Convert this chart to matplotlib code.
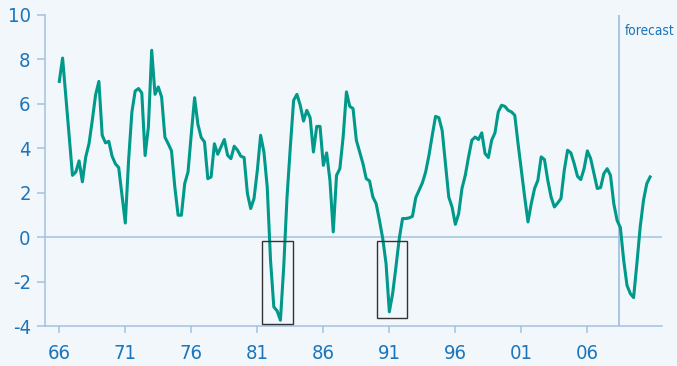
import matplotlib.pyplot as plt
import numpy as np
from matplotlib.patches import Rectangle

# Quarterly growth, % y/y, 1966Q1 onwards (last quarters are forecast)
start_year = 1966
growth = [
    7.0, 8.05, 6.3, 4.5, 2.78, 2.93, 3.43, 2.49, 3.6, 4.2, 5.25, 6.4, 7.0, 4.58, 4.24, 4.31,
    3.64, 3.3, 3.13, 1.9, 0.64, 3.46, 5.63, 6.57, 6.68, 6.48, 3.67, 4.96, 8.4, 6.42, 6.75, 6.3,
    4.5, 4.2, 3.88, 2.26, 0.99, 0.99, 2.41, 2.93, 4.65, 6.27, 5.07, 4.48, 4.28, 2.63, 2.71, 4.2,
    3.73, 4.06, 4.39, 3.68, 3.53, 4.09, 3.91, 3.64, 3.58, 1.96, 1.29, 1.74, 3.0, 4.58, 3.83, 2.26,
    -1.03, -3.13, -3.31, -3.73, -1.33, 1.81, 4.06, 6.15, 6.42, 5.93, 5.22, 5.7, 5.37, 3.83, 4.98, 4.98,
    3.23, 3.79, 2.56, 0.24, 2.78, 3.08, 4.5, 6.53, 5.88, 5.78, 4.36, 3.83, 3.31, 2.63, 2.53, 1.81,
    1.51, 0.76, -0.06, -1.18, -3.35, -2.53, -1.33, -0.06, 0.84, 0.84, 0.87, 0.94, 1.78, 2.11, 2.44, 2.93,
    3.68, 4.58, 5.43, 5.37, 4.8, 3.31, 1.81, 1.36, 0.58, 1.06, 2.19, 2.78, 3.61, 4.36, 4.5, 4.39,
    4.69, 3.76, 3.58, 4.36, 4.69, 5.63, 5.93, 5.88, 5.7, 5.63, 5.48, 4.2, 3.0, 1.81, 0.69, 1.51,
    2.19, 2.56, 3.61, 3.49, 2.56, 1.81, 1.36, 1.54, 1.74, 3.01, 3.91, 3.79, 3.31, 2.74, 2.59, 3.08,
    3.88, 3.53, 2.86, 2.19, 2.23, 2.86, 3.08, 2.78, 1.51, 0.76, 0.43, -1.03, -2.16, -2.53, -2.71, -1.18,
    0.46, 1.66, 2.41, 2.71,
]
years = start_year + np.arange(len(growth)) / 4

xticks = [1966, 1971, 1976, 1981, 1986, 1991, 1996, 2001, 2006]
xtick_labels = ['66', '71', '76', '81', '86', '91', '96', '01', '06']
yticks = [-4, -2, 0, 2, 4, 6, 8, 10]
ytick_labels = ['-4', '-2', '0', '2', '4', '6', '8', '10']

# recession boxes: (x0, x1, y0, y1)
boxes = [(1981.33, 1983.7, -3.91, -0.19), (1990.07, 1992.32, -3.65, -0.19)]
forecast_start = 2008.38

bg = '#F2F7FC'
axis_col = '#A3C1E0'
label_col = '#1B75BB'
line_col = '#00998A'

plt.rcParams['font.family'] = ['DejaVu Sans']
plt.rcParams['font.stretch'] = 'condensed'

fig = plt.figure(figsize=(6.77, 3.66), dpi=100)
fig.patch.set_facecolor(bg)
ax = fig.add_axes([0.0669, 0.1085, 0.978 - 0.0669, 0.96 - 0.1085])
ax.set_facecolor(bg)

ax.plot(years, growth, color=line_col, linewidth=2.2, solid_joinstyle='round', zorder=3)
ax.axhline(0, color=axis_col, linewidth=1.1, zorder=1)
ax.axvline(forecast_start, color=axis_col, linewidth=1.3, zorder=1)
ax.text(forecast_start + 0.45, 9.07, 'forecast', color=label_col, fontsize=9.8,
        ha='left', va='baseline')

for x0, x1, y0, y1 in boxes:
    ax.add_patch(Rectangle((x0, y0), x1 - x0, y1 - y0, fill=False,
                           edgecolor='#333333', linewidth=1.0, zorder=4))

ax.set_xlim(1964.94, 2011.66)
ax.set_ylim(-4, 10)
ax.set_xticks(xticks)
ax.set_xticklabels(xtick_labels)
ax.set_yticks(yticks)
ax.set_yticklabels(ytick_labels)

for side in ['top', 'right']:
    ax.spines[side].set_visible(False)
for side in ['left', 'bottom']:
    ax.spines[side].set_color(axis_col)
    ax.spines[side].set_linewidth(1.1)

ax.tick_params(axis='both', colors=axis_col, labelcolor=label_col, labelsize=14.5,
               width=1.1)
ax.tick_params(axis='y', length=6, pad=4.5)
ax.tick_params(axis='x', length=5, pad=8)

fig.savefig('out.png', dpi=100, facecolor=bg)
